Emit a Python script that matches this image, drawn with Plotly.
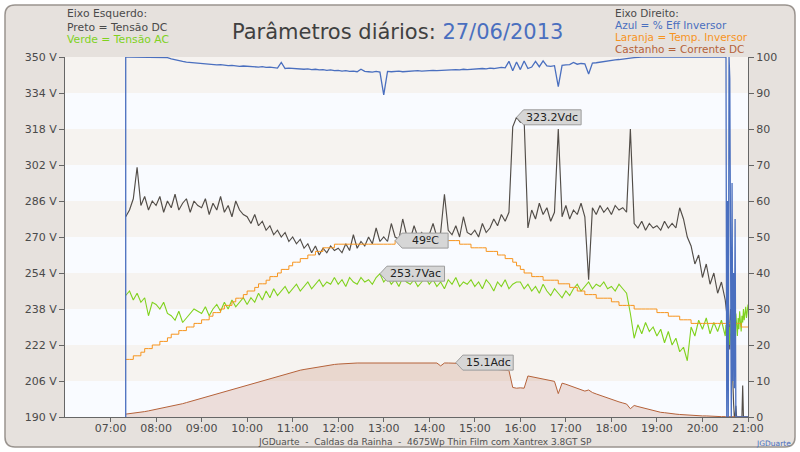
import pandas as pd
import plotly.graph_objects as go

# ---------------- data ----------------
# 5-minute samples 07:20..20:30, then 1-minute samples 20:31..21:00
times = pd.date_range("2013-06-27 07:20", "2013-06-27 20:30", freq="5min").append(
    pd.date_range("2013-06-27 20:31", "2013-06-27 21:00", freq="1min"))

tensao_dc = [  # V, left axis (black/grey)
    279, 282, 287, 301, 284, 288, 282, 286,
    284, 288, 281, 286, 283, 289, 282, 285, 287, 281, 286, 284,
    283, 287, 280, 285, 282, 288, 281, 284, 279, 286, 282, 280,
    279, 276, 280, 275, 277, 273, 275, 271, 273, 270, 272, 268,
    270, 267, 269, 265, 267, 263, 266, 262, 265, 263, 266, 264,
    265, 263, 267, 264, 271, 265, 268, 266, 270, 267, 274, 268,
    270, 268, 276, 270, 269, 278, 271, 269, 275, 270, 272, 269,
    271, 276, 270, 272, 289, 273, 271, 275, 270, 279, 272, 271,
    273, 270, 276, 272, 274, 278, 275, 280, 277, 281, 319, 323.2,
    321, 322, 274, 282, 278, 285, 280, 283, 277, 281, 318, 279,
    284, 278, 282, 280, 285, 279, 251, 283, 280, 284, 281, 283,
    280, 284, 282, 283, 281, 318, 276, 274, 277, 273, 276, 274,
    275, 273, 277, 274, 276, 274, 283, 278, 270, 266, 258, 262,
    252, 258, 249, 254, 245, 250, 242,
    240, 236, 230, 244, 228, 220, 238, 225, 215, 205, 196, 190, 190, 195, 190,
    190, 190, 190, 190, 190, 190, 190, 204, 190, 190, 190, 190, 190, 190, 190,
]

tensao_ac = [  # V, left axis (green)
    244, 246, 242, 245, 241, 243, 235, 241,
    240, 238, 241, 236, 235, 233, 237, 232, 234, 236, 238, 237,
    236, 239, 235, 238, 240, 237, 241, 238, 242, 239, 241, 243,
    240, 243, 241, 245, 242, 246, 243, 247, 244, 246, 248, 245,
    247, 249, 246, 248, 250, 247, 249, 251, 248, 250, 249, 252,
    249, 251, 248, 252, 250, 249, 252, 250, 251, 249, 252, 253.7,
    250, 252, 249, 251, 248, 252, 250, 249, 251, 248, 250, 252,
    249, 251, 248, 250, 247, 251, 249, 252, 248, 250, 249, 251,
    248, 250, 247, 251, 249, 246, 250, 248, 251, 247, 249, 250,
    250, 247, 249, 246, 248, 245, 249, 246, 244, 247, 245, 243,
    246, 244, 247, 249, 246, 248, 250, 247, 249, 248, 250, 247,
    248, 246, 249, 247, 245, 236, 225, 231, 227, 232, 228, 230,
    226, 229, 223, 228, 222, 225, 219, 221, 215, 230, 226, 233,
    229, 234, 227, 232, 228, 233, 226,
    231, 228, 234, 225, 230, 222, 233, 227, 235, 229, 221, 232, 228, 236, 230,
    226, 234, 229, 237, 231, 228, 235, 232, 238, 233, 236, 239, 234, 238, 240,
]

temp_inversor = [  # degC, right axis (orange)
    16, 16, 17, 17, 18, 19, 19, 20,
    20, 21, 21, 22, 23, 23, 24, 24, 25, 25, 26, 26,
    27, 27, 28, 29, 29, 30, 31, 31, 32, 33, 33, 34,
    35, 35, 36, 37, 37, 38, 39, 39, 40, 41, 41, 42,
    43, 43, 44, 44, 45, 45, 46, 46, 47, 47, 47, 48,
    48, 48, 48, 48, 48, 48, 48, 48, 48, 48, 48, 48,
    48, 48, 48, 49, 49, 49, 49, 49, 49, 49, 49, 49,
    49, 49, 49, 49, 49, 49, 49, 49, 48, 48, 48, 47,
    47, 47, 47, 46, 46, 46, 45, 45, 44, 44, 43, 42,
    41, 40, 40, 39, 39, 39, 38, 38, 38, 38, 37, 37,
    37, 36, 36, 35, 35, 34, 34, 34, 33, 33, 33, 33,
    32, 32, 31, 31, 31, 31, 30, 30, 30, 30, 30, 30,
    29, 29, 29, 28, 28, 28, 27, 27, 27, 26, 26, 26,
    26, 26, 26, 26, 26, 26, 26,
    26, 26, 26, 26, 26, 26, 26, 26, 26, 26, 26, 26, 26, 26, 26,
    26, 26, 26, 26, 26, 25, 25, 25, 25, 25, 25, 25, 25, 25, 25,
]

corrente_dc = [  # A, right axis (brown, filled)
    0.8, 0.9, 1.0, 1.2, 1.3, 1.5, 1.7, 1.9,
    2.1, 2.3, 2.5, 2.7, 3.0, 3.2, 3.4, 3.7, 4.0, 4.3, 4.6, 4.9,
    5.2, 5.5, 5.8, 6.1, 6.4, 6.8, 7.1, 7.4, 7.7, 8.1, 8.4, 8.7,
    9.0, 9.3, 9.6, 9.9, 10.2, 10.5, 10.8, 11.1, 11.4, 11.7, 12.0, 12.3,
    12.5, 12.8, 13.0, 13.2, 13.4, 13.6, 13.8, 14.0, 14.2, 14.3, 14.5, 14.6,
    14.7, 14.8, 14.9, 14.9, 15.0, 15.0, 15.0, 15.0, 15.0, 15.0, 15.0, 15.0,
    15.0, 15.0, 15.0, 15.0, 15.0, 15.0, 15.0, 15.0, 15.0, 15.0, 15.0, 15.0,
    15.0, 15.0, 15.0, 14.2, 15.0, 15.0, 15.0, 15.1, 14.9, 14.7, 14.5, 14.3,
    14.1, 13.9, 13.8, 13.6, 13.5, 13.3, 13.2, 13.1, 13.0, 12.9, 8.2, 8.0,
    8.1, 8.0, 11.4, 11.2, 11.0, 10.8, 10.6, 10.4, 10.2, 9.9, 6.5, 9.4,
    9.1, 8.7, 8.3, 7.9, 7.5, 7.2, 7.5, 6.8, 6.4, 6.0, 5.7, 5.3,
    4.8, 4.5, 4.2, 3.9, 3.6, 2.3, 3.2, 2.9, 2.6, 2.3, 2.0, 1.8,
    1.5, 1.3, 1.2, 1.0, 0.9, 0.8, 0.7, 0.6, 0.5, 0.5, 0.4, 0.4,
    0.3, 0.3, 0.2, 0.2, 0.1, 0.1, 0.1,
    0.1, 0.1, 0.1, 0.1, 0.1, 0, 0, 0, 0, 0, 0, 0, 0, 0, 0,
    0, 0, 0, 0, 0, 0, 0, 0, 0, 0, 0, 0, 0, 0, 0,
]

eff_start = [0]  # inverter efficiency at switch-on (07:20)
eff_inversor = [  # %, right axis (blue)
    100, 100, 100, 100, 100, 100, 100, 100,
    100, 100, 100, 99.8, 99.5, 99.2, 99.0, 98.8, 98.6, 98.5, 98.4, 98.3,
    98.2, 98.0, 98.1, 97.9, 97.8, 97.9, 97.7, 97.6, 97.7, 97.5, 97.4, 97.5,
    97.4, 97.3, 97.4, 97.2, 97.3, 97.1, 97.2, 97.0, 96.9, 98.5, 96.8, 96.9,
    96.8, 96.7, 96.8, 96.6, 96.7, 96.5, 96.6, 96.4, 96.5, 96.3, 96.4, 96.2,
    96.3, 96.1, 96.2, 96.0, 96.1, 95.9, 96.6, 96.0, 95.9, 95.8, 96.0, 95.8,
    89.5, 96.0, 95.9, 96.0, 96.1, 95.9, 96.0, 96.1, 96.0, 96.2, 96.1, 96.2,
    96.2, 96.3, 96.2, 96.3, 96.4, 96.3, 96.4, 96.5, 96.4, 96.6, 96.5, 96.6,
    96.7, 96.6, 96.8, 96.7, 96.9, 96.8, 97.0, 97.1, 97.0, 98.8, 96.2, 98.6,
    96.5, 98.9, 96.8, 97.2, 98.8, 97.3, 98.9, 97.5, 97.4, 97.6, 91.8, 97.7,
    97.8, 97.9, 98.5, 98.0, 98.2, 98.1, 95.3, 98.3, 98.4, 98.6, 98.7, 98.9,
    99.0, 99.2, 99.3, 99.5, 99.6, 99.7, 99.8, 100, 100, 100, 100, 100,
    100, 100, 100, 100, 100, 100, 100, 100, 100, 100, 100, 100,
    100, 100, 100, 100, 100, 100, 100,
    100, 0, 60, 0, 100, 94, 30, 0, 65, 10, 40, 8, 55, 0, 0,
    0, 0, 0, 0, 0, 0, 0, 0, 0, 0, 0, 0, 0, 0, 0,
]

left_ticks = [190, 206, 222, 238, 254, 270, 286, 302, 318, 334, 350]
right_ticks = [0, 10, 20, 30, 40, 50, 60, 70, 80, 90, 100]
hour_ticks = ["07:00", "08:00", "09:00", "10:00", "11:00", "12:00", "13:00", "14:00",
              "15:00", "16:00", "17:00", "18:00", "19:00", "20:00", "21:00"]

for s in (tensao_dc, tensao_ac, temp_inversor, corrente_dc, eff_inversor):
    assert len(s) == len(times), len(s)

# ---------------- layout helpers ----------------
W, H = 800, 452
L, R, T, B = 65, 52, 57, 35
PW, PH = W - L - R, H - T - B
FONT = "DejaVu Sans"
C_TXT = "#4a4a4a"
C_GREY = "#524d48"
C_GREEN = "#80d21e"
C_ORANGE = "#f7941d"
C_BLUE = "#4a6fbf"
C_BROWN = "#b5623a"


def px(x):
    return (x - L) / PW


def py(y):
    return (H - B - y) / PH


tstr = [t.strftime("%Y-%m-%d %H:%M:%S") for t in times]
day = "2013-06-27 "

fig = go.Figure()
fig.add_trace(go.Scatter(x=tstr, y=tensao_dc, mode="lines", line=dict(color=C_GREY, width=1.15),
                         yaxis="y", hoverinfo="skip"))
fig.add_trace(go.Scatter(x=tstr, y=tensao_ac, mode="lines", line=dict(color=C_GREEN, width=1.1),
                         yaxis="y", hoverinfo="skip"))
fig.add_trace(go.Scatter(x=tstr, y=corrente_dc, mode="lines", fill="tozeroy",
                         fillcolor="rgba(185,105,70,0.20)", line=dict(color=C_BROWN, width=1),
                         yaxis="y2", hoverinfo="skip"))
fig.add_trace(go.Scatter(x=tstr, y=temp_inversor, mode="lines", line=dict(color=C_ORANGE, width=1, shape="hv"),
                         yaxis="y2", hoverinfo="skip"))
fig.add_trace(go.Scatter(x=tstr[:1] + tstr, y=eff_start + eff_inversor, mode="lines",
                         line=dict(color=C_BLUE, width=1.3), yaxis="y2", hoverinfo="skip"))

shapes = []
# outer rounded frame
x0, y0, x1, y1, r = 5, 5, 795, 447, 10
path = (f"M{px(x0 + r)},{py(y0)} L{px(x1 - r)},{py(y0)} Q{px(x1)},{py(y0)} {px(x1)},{py(y0 + r)} "
        f"L{px(x1)},{py(y1 - r)} Q{px(x1)},{py(y1)} {px(x1 - r)},{py(y1)} "
        f"L{px(x0 + r)},{py(y1)} Q{px(x0)},{py(y1)} {px(x0)},{py(y1 - r)} "
        f"L{px(x0)},{py(y0 + r)} Q{px(x0)},{py(y0)} {px(x0 + r)},{py(y0)} Z")
shapes.append(dict(type="path", xref="paper", yref="paper", path=path, fillcolor="#e6e1dd",
                   line=dict(color="#9a948f", width=1.5), layer="below"))
# alternating bands
for i in range(len(left_ticks) - 1):
    shapes.append(dict(type="rect", xref="paper", yref="y", x0=0, x1=1,
                       y0=left_ticks[i], y1=left_ticks[i + 1],
                       fillcolor="#f6f3f0" if i % 2 else "#f9fbff", line=dict(width=0), layer="below"))

annotations = []


def txt(x, y, text, color=C_TXT, size=11, xanchor="left"):
    annotations.append(dict(x=px(x), y=py(y), xref="paper", yref="paper", text=text, showarrow=False,
                            xanchor=xanchor, yanchor="middle", font=dict(family=FONT, size=size, color=color)))


txt(65, 14, "Eixo Esquerdo:", size=10.8)
txt(65, 27, "Preto = Tensão DC", size=10.8)
txt(65, 40, "Verde = Tensão AC", C_GREEN, size=10.8)
txt(613, 13, "Eixo Direito:", size=10.5)
txt(613, 25, "Azul = % Eff Inversor", C_BLUE, size=10.5)
txt(613, 37, "Laranja = Temp. Inversor", C_ORANGE, size=10.5)
txt(613, 49, "Castanho = Corrente DC", C_BROWN, size=10.5)
txt(397, 32, f"Parâmetros diários: <span style='color:{C_BLUE}'>27/06/2013</span>", "#404040", 21, "center")
txt(425, 442, "JGDuarte\u00a0\u00a0-\u00a0\u00a0Caldas da Rainha\u00a0\u00a0-\u00a0\u00a04675Wp Thin Film com Xantrex 3.8GT SP",
    "#505050", 9, "center")
txt(793, 443, "JGDuarte", C_BLUE, 7.5, "right")


def tag(series, yref, label):
    i = max(range(len(series)), key=lambda k: series[k])
    w = max(46, 7.2 * len(label))
    shapes.append(dict(type="path", xref="x", yref=yref, xsizemode="pixel", ysizemode="pixel",
                       xanchor=tstr[i], yanchor=series[i],
                       path=f"M0,0 L7,7.5 L{7 + w},7.5 L{7 + w},-7.5 L7,-7.5 Z",
                       fillcolor="#d6d6d6", line=dict(color="#9c9c9c", width=1), layer="above"))
    annotations.append(dict(x=tstr[i], y=series[i], xref="x", yref=yref, text=label, showarrow=False,
                            xanchor="center", yanchor="middle", xshift=7 + w / 2,
                            font=dict(family=FONT, size=11, color="#222222")))


tag(tensao_dc, "y", f"{max(tensao_dc):.1f}Vdc")
tag(temp_inversor, "y2", f"{max(temp_inversor)}ºC")
tag(tensao_ac, "y", f"{max(tensao_ac):.1f}Vac")
tag(corrente_dc, "y2", f"{max(corrente_dc):.1f}Adc")

axis_common = dict(showgrid=False, zeroline=False, showline=True, linecolor="#666666", linewidth=1,
                   ticks="outside", ticklen=5, tickcolor="#666666",
                   tickfont=dict(family=FONT, size=11, color=C_TXT))

xaxis_style = dict(axis_common, ticklen=4)

fig.update_layout(
    width=W, height=H, margin=dict(l=L, r=R, t=T, b=B, autoexpand=False),
    paper_bgcolor="white", plot_bgcolor="#f9fbff", showlegend=False,
    xaxis=dict(type="date", range=[day + "06:00", day + "21:00"], ticklabelstandoff=-3,
               tickvals=[day + h for h in hour_ticks], ticktext=hour_ticks, **xaxis_style),
    yaxis=dict(range=[left_ticks[0], left_ticks[-1]], tickvals=left_ticks,
               ticktext=[f"{v} V" for v in left_ticks], **axis_common),
    yaxis2=dict(range=[right_ticks[0], right_ticks[-1]], tickvals=right_ticks, overlaying="y", side="right",
                **axis_common),
    shapes=shapes, annotations=annotations,
)

fig.write_html("out.html")
